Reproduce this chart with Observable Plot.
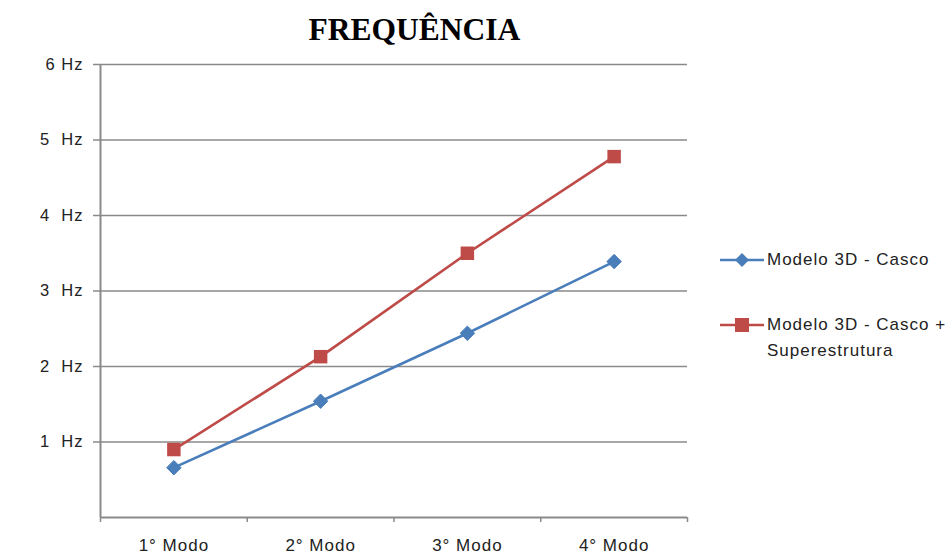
<!DOCTYPE html>
<html><head><meta charset="utf-8">
<script src="https://cdn.jsdelivr.net/npm/d3@7"></script>
<script src="https://cdn.jsdelivr.net/npm/@observablehq/plot@0.6"></script>
<style>
body{margin:0;background:#fff;}
#wrap{position:relative;width:949px;height:559px;font-family:"Liberation Sans",Arial,sans-serif;}
#title{position:absolute;left:0;width:829px;top:12px;text-align:center;font:bold 31.5px "Liberation Serif","Times New Roman",serif;color:#000;}
.leg{position:absolute;left:718px;font-size:17px;letter-spacing:1px;color:#222;line-height:26px;}
.leg svg{vertical-align:middle;margin-right:1px;}
</style></head><body>
<div id="wrap"><div id="title">FREQUÊNCIA</div></div>
<script>
const categories = ["1° Modo", "2° Modo", "3° Modo", "4° Modo"];
const casco = [0.66, 1.54, 2.44, 3.39];
const cascoSuper = [0.90, 2.13, 3.50, 4.78];
const yTicks = [1, 2, 3, 4, 5, 6];
const yTickLabels = ["1  Hz", "2  Hz", "3  Hz", "4  Hz", "5  Hz", "6 Hz"];
const seriesNames = ["Modelo 3D - Casco", "Modelo 3D - Casco + Superestrutura"];
const colors = ["#4A7EBB", "#BE4B48"];

const rows = [];
categories.forEach((c, i) => {
  rows.push({i: i + 0.5, v: casco[i], s: seriesNames[0]});
  rows.push({i: i + 0.5, v: cascoSuper[i], s: seriesNames[1]});
});
const grid = "#8a8a8a";
const chart = Plot.plot({
  width: 949, height: 559,
  marginLeft: 100, marginRight: 262, marginTop: 64, marginBottom: 42,
  style: {fontFamily: "'Liberation Sans', Arial, sans-serif", fontSize: "17px", color: "#222", letterSpacing: "1px"},
  x: {type: "linear", domain: [0, categories.length], label: null},
  y: {domain: [0, 6], label: null},
  color: {domain: seriesNames, range: colors},
  marks: [
    Plot.ruleY(yTicks, {stroke: grid, strokeWidth: 1.5}),
    Plot.axisY({ticks: yTicks, tickFormat: d => yTickLabels[yTicks.indexOf(d)], tickSize: 7, tickPadding: 10, stroke: grid, strokeOpacity: 1, strokeWidth: 1.5, fontSize: 16.5, label: null, style: {whiteSpace: "pre"}}),
    Plot.axisX({ticks: d3.range(categories.length + 1), tickFormat: () => "", tickSize: 5, stroke: grid, strokeOpacity: 1, strokeWidth: 1.5, label: null}),
    Plot.axisX({ticks: categories.map((c, i) => i + 0.5), tickFormat: d => categories[Math.floor(d)], tickSize: 0, tickPadding: 21, fontSize: 17, label: null}),
    Plot.ruleY([0], {stroke: grid, strokeWidth: 2}),
    Plot.ruleX([0], {stroke: grid, strokeWidth: 2}),
    Plot.line(rows, {x: "i", y: "v", z: "s", stroke: "s", strokeWidth: 2.6}),
    Plot.dot(rows.filter(d => d.s === seriesNames[0]), {x: "i", y: "v", symbol: "diamond2", r: 6.5, fill: colors[0], stroke: colors[0], strokeWidth: 1}),
    Plot.dot(rows.filter(d => d.s === seriesNames[1]), {x: "i", y: "v", symbol: "square", r: 7.6, fill: colors[1], stroke: "none"})
  ]
});
const wrap = document.getElementById("wrap");
wrap.insertBefore(chart, wrap.firstChild);

function legendItem(name, color, symbol, top) {
  const div = document.createElement("div");
  div.className = "leg";
  div.style.top = top + "px";
  const sym = symbol === "diamond"
    ? `<polygon points="24,2 31,9 24,16 17,9" fill="${color}"/>`
    : `<rect x="17" y="2" width="14" height="14" fill="${color}"/>`;
  const parts = name.split(" + ");
  const txt = parts.length > 1 ? parts[0] + " +<br>" + parts[1] : name;
  div.innerHTML = `<div style="display:flex;align-items:flex-start"><svg width="48" height="18" style="margin-top:4px"><line x1="2" x2="46" y1="9" y2="9" stroke="${color}" stroke-width="2.6"/>${sym}</svg><span>${txt}</span></div>`;
  wrap.appendChild(div);
}
legendItem(seriesNames[0], colors[0], "diamond", 247);
legendItem(seriesNames[1], colors[1], "square", 312);
</script>
</body></html>
